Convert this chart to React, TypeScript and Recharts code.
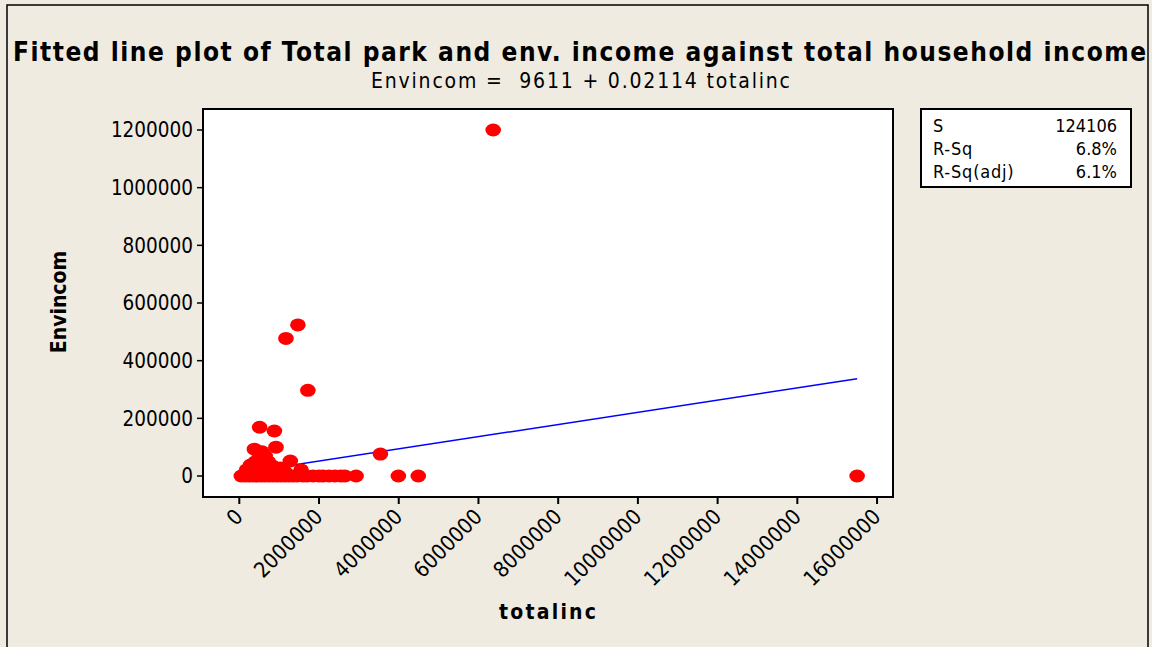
import React from 'react';
import {
  ScatterChart,
  Scatter,
  XAxis,
  YAxis,
  ReferenceArea,
} from 'recharts';

// Household observations: total household income vs. park & environmental income
const totalinc: number[] = [
  6370000, 15500000, 3540000, 3990000, 4490000, 1470000, 1170000, 1720000,
  510000, 880000, 920000, 380000, 1280000, 1550000, 570000,
  50000, 150000, 250000, 350000, 450000, 550000, 650000, 750000, 850000, 950000,
  1050000, 1150000, 1250000, 1350000, 1450000, 1600000, 1700000, 1850000, 2000000,
  2100000, 2250000, 2400000, 2550000, 2650000, 2930000,
  180000, 280000, 400000, 500000, 580000, 650000, 730000, 830000, 930000, 1030000,
  450000, 600000, 780000, 1150000, 330000, 530000, 700000, 900000, 250000, 620000,
  350000, 480000, 560000, 660000,
];
const envincom: number[] = [
  1200000, 0, 76000, 0, 0, 524000, 477000, 297000,
  169000, 156000, 100000, 93000, 52000, 21000, 84000,
  0, 0, 0, 0, 0, 0, 0, 0, 0, 0,
  0, 0, 0, 0, 0, 0, 0, 0, 0,
  0, 0, 0, 0, 0, 0,
  21000, 38000, 49000, 62000, 75000, 69000, 49000, 35000, 21000, 28000,
  28000, 35000, 21000, 14000, 7000, 10000, 14000, 7000, 14000, 52000,
  24000, 42000, 58000, 30000,
];

// Fitted regression line: Envincom = 9611 + 0.02114 totalinc
const fitX: number[] = [50000, 15500000];
const fitY: number[] = [10668, 337281];

const xTicks: number[] = [0, 2000000, 4000000, 6000000, 8000000, 10000000, 12000000, 14000000, 16000000];
const yTicks: number[] = [0, 200000, 400000, 600000, 800000, 1000000, 1200000];

const statLabels: string[] = ['S', 'R-Sq', 'R-Sq(adj)'];
const statValues: string[] = ['124106', '6.8%', '6.1%'];

const X_DOMAIN: [number, number] = [-911000, 16400000];
const Y_DOMAIN: [number, number] = [-72800, 1272800];

const FONT = "'DejaVu Sans Condensed', 'DejaVu Sans', sans-serif";

const points = totalinc.map((x, i) => ({ x, y: envincom[i] }));
const fitLine = fitX.map((x, i) => ({ x, y: fitY[i] }));

const RedDot = (props: any) => {
  const { cx, cy } = props;
  if (cx == null || cy == null) return <g />;
  return <ellipse cx={cx} cy={cy} rx={7.8} ry={6.5} fill="#ff0000" />;
};

const XTick = (props: any) => {
  const { x, y, payload } = props;
  return (
    <g transform={`translate(${x + 5},${y + 12})`}>
      <text
        x={0}
        y={0}
        textAnchor="end"
        transform="rotate(-45)"
        fontFamily={FONT}
        fontSize={21.5}
        fill="#000"
      >
        {payload.value}
      </text>
    </g>
  );
};

export default function App() {
  return (
    <div style={{ position: 'absolute', left: 0, top: 0, width: 1152, height: 647, overflow: 'hidden' }}>
      <svg width={1152} height={647} style={{ position: 'absolute', left: 0, top: 0 }}>
        <rect x={0} y={0} width={1152} height={647} fill="#efebe0" />
        <rect x={7} y={5} width={1141} height={660} fill="none" stroke="#000" strokeWidth={1.5} />
        <text
          x={13}
          y={61}
          fontFamily={FONT}
          fontWeight="bold"
          fontSize={26}
          textLength={1133}
          lengthAdjust="spacing"
          fill="#000"
        >
          Fitted line plot of Total park and env. income against total household income
        </text>
        <text
          x={371}
          y={88}
          fontFamily={FONT}
          fontSize={21}
          textLength={419}
          lengthAdjust="spacing"
          style={{ whiteSpace: 'pre' }}
          fill="#000"
        >
          {'Envincom =  9611 + 0.02114 totalinc'}
        </text>
        <text
          x={0}
          y={0}
          transform="translate(66,302) rotate(-90)"
          textAnchor="middle"
          fontFamily={FONT}
          fontWeight="bold"
          fontSize={21}
          fill="#000"
        >
          Envincom
        </text>
        <text
          x={499}
          y={619}
          fontFamily={FONT}
          fontWeight="bold"
          fontSize={21}
          textLength={97}
          lengthAdjust="spacing"
          fill="#000"
        >
          totalinc
        </text>
        <rect x={921} y={109} width={210} height={78} fill="#fff" stroke="#000" strokeWidth={2} />
        {statLabels.map((s, i) => (
          <text key={s} x={933} y={132 + i * 23} fontFamily={FONT} fontSize={18} letterSpacing={0.8} fill="#000">
            {s}
          </text>
        ))}
        {statValues.map((s, i) => (
          <text key={s} x={1117} y={132 + i * 23} fontFamily={FONT} fontSize={18} textAnchor="end" fill="#000">
            {s}
          </text>
        ))}
      </svg>
      <div style={{ position: 'absolute', left: 0, top: 0 }}>
        <ScatterChart width={1152} height={647} margin={{ top: 109, right: 259, bottom: 50, left: 93 }}>
          <ReferenceArea
            x1={X_DOMAIN[0]}
            x2={X_DOMAIN[1]}
            y1={Y_DOMAIN[0]}
            y2={Y_DOMAIN[1]}
            fill="#ffffff"
            fillOpacity={1}
            stroke="#000"
            strokeWidth={2}
          />
          <XAxis
            type="number"
            dataKey="x"
            domain={X_DOMAIN}
            allowDataOverflow
            ticks={xTicks}
            interval={0}
            height={100}
            axisLine={false}
            tickLine={{ stroke: '#000', strokeWidth: 2 }}
            tickSize={7}
            tick={<XTick />}
          />
          <YAxis
            type="number"
            dataKey="y"
            domain={Y_DOMAIN}
            allowDataOverflow
            ticks={yTicks}
            interval={0}
            width={110}
            axisLine={false}
            tickLine={{ stroke: '#000', strokeWidth: 1.5 }}
            tickSize={6}
            tickMargin={4}
            tick={{ fill: '#000', fontSize: 20.5, fontFamily: FONT }}
          />
          <Scatter
            data={fitLine}
            line={{ stroke: '#0000ff', strokeWidth: 1.5 }}
            shape={() => <g />}
            isAnimationActive={false}
          />
          <Scatter data={points} shape={<RedDot />} isAnimationActive={false} />
        </ScatterChart>
      </div>
    </div>
  );
}
